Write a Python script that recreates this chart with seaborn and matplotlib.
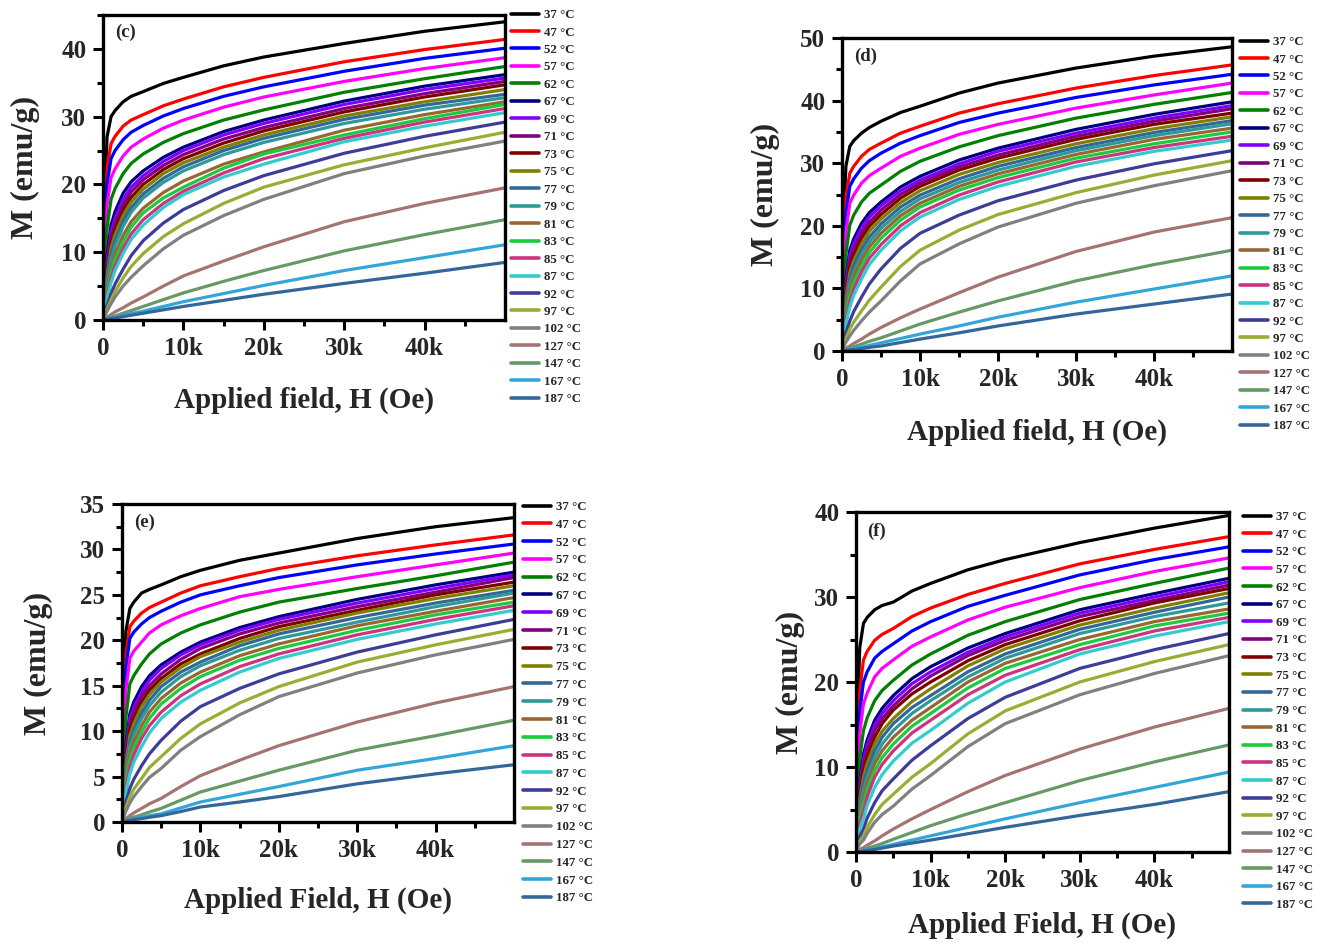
import numpy as np
import pandas as pd
import matplotlib
matplotlib.use("Agg")
import matplotlib.pyplot as plt
import seaborn as sns

# ---------------------------------------------------------------------------
# Data: magnetisation M (emu/g) versus applied field H (Oe) for each temperature
# ---------------------------------------------------------------------------
TEMPS = [37, 47, 52, 57, 62, 67, 69, 71, 73, 75, 77, 79, 81, 83, 85, 87,
         92, 97, 102, 127, 147, 167, 187]
LABELS = [f"{t} °C" for t in TEMPS]

COLORS = ["#000000", "#FF0000", "#0000FF", "#FF00FF", "#008000", "#000080",
          "#8000FF", "#800080", "#800000", "#808000", "#336699", "#2E9999",
          "#996633", "#1ACC3C", "#CC3380", "#33CCCC", "#3D3D99", "#99AD33",
          "#808080", "#A67373", "#669966", "#33A6D9", "#336699"]

H_FIELD = [0, 200, 500, 1000, 1500, 2500, 3500, 5000, 7500, 10000, 15000,
           20000, 30000, 40000, 50000]

M_PANEL_C = [
    [0, 16.0, 27.0, 30.0, 30.9, 32.2, 33.0, 33.7, 34.9, 35.8, 37.5, 38.8, 40.8, 42.6, 44.0],
    [0, 13.0, 22.5, 26.0, 27.1, 28.6, 29.5, 30.3, 31.6, 32.6, 34.4, 35.8, 38.1, 39.9, 41.4],
    [0, 11.0, 20.0, 23.8, 25.0, 26.6, 27.7, 28.7, 30.1, 31.2, 33.0, 34.4, 36.7, 38.6, 40.1],
    [0, 9.0, 17.0, 21.0, 22.3, 24.2, 25.5, 26.7, 28.3, 29.5, 31.4, 32.9, 35.2, 37.1, 38.7],
    [0, 6.5, 13.5, 17.8, 19.4, 21.6, 23.1, 24.5, 26.2, 27.5, 29.5, 31.0, 33.6, 35.6, 37.4],
    [0, 4.5, 9.5, 14.0, 16.0, 18.7, 20.4, 22.0, 24.0, 25.5, 27.8, 29.5, 32.3, 34.5, 36.2],
    [0, 4.0, 8.6, 13.0, 15.0, 17.8, 19.6, 21.3, 23.4, 25.0, 27.3, 29.0, 31.8, 34.0, 35.7],
    [0, 3.7, 8.0, 12.2, 14.2, 17.0, 18.9, 20.7, 22.8, 24.4, 26.7, 28.4, 31.2, 33.4, 35.2],
    [0, 3.3, 7.2, 11.4, 13.4, 16.2, 18.1, 20.0, 22.2, 23.8, 26.1, 27.9, 30.7, 32.9, 34.7],
    [0, 3.0, 6.6, 10.6, 12.6, 15.4, 17.4, 19.3, 21.6, 23.2, 25.5, 27.3, 30.1, 32.2, 34.0],
    [0, 2.6, 5.9, 9.6, 11.7, 14.6, 16.6, 18.6, 20.9, 22.6, 25.0, 26.8, 29.6, 31.7, 33.3],
    [0, 2.3, 5.3, 8.8, 10.9, 13.8, 15.9, 18.0, 20.3, 22.0, 24.4, 26.2, 29.0, 31.1, 32.8],
    [0, 1.9, 4.5, 7.6, 9.7, 12.5, 14.5, 16.5, 18.8, 20.5, 23.0, 24.8, 28.0, 30.3, 32.2],
    [0, 1.7, 4.0, 6.9, 8.9, 11.6, 13.7, 15.8, 18.0, 19.6, 22.4, 24.5, 27.3, 29.7, 31.8],
    [0, 1.5, 3.5, 6.2, 8.0, 10.6, 12.7, 14.8, 17.2, 19.0, 21.7, 23.8, 26.8, 29.2, 31.2],
    [0, 1.3, 3.1, 5.5, 7.3, 9.8, 11.9, 14.0, 16.6, 18.5, 21.1, 23.0, 26.3, 28.6, 30.6],
    [0, 0.9, 2.1, 3.9, 5.3, 7.5, 9.5, 11.7, 14.3, 16.3, 19.1, 21.3, 24.6, 27.1, 29.2],
    [0, 0.7, 1.6, 3.0, 4.2, 6.2, 7.9, 9.8, 12.3, 14.2, 17.2, 19.6, 22.9, 25.4, 27.7],
    [0, 0.55, 1.3, 2.4, 3.4, 5.0, 6.3, 8.0, 10.5, 12.5, 15.4, 17.8, 21.6, 24.2, 26.4],
    [0, 0.18, 0.4, 0.8, 1.2, 1.8, 2.5, 3.4, 5.0, 6.5, 8.7, 10.8, 14.5, 17.2, 19.5],
    [0, 0.1, 0.25, 0.45, 0.6, 1.0, 1.4, 2.0, 3.0, 4.0, 5.7, 7.3, 10.2, 12.6, 14.8],
    [0, 0.06, 0.15, 0.3, 0.4, 0.7, 0.95, 1.3, 2.0, 2.7, 3.9, 5.1, 7.3, 9.2, 11.1],
    [0, 0.05, 0.12, 0.22, 0.3, 0.5, 0.7, 1.0, 1.5, 2.0, 2.9, 3.8, 5.4, 6.9, 8.5],
]

M_PANEL_D = [
    [0, 20.0, 29.5, 32.7, 33.6, 34.8, 35.7, 36.7, 38.1, 39.1, 41.2, 42.8, 45.2, 47.1, 48.6],
    [0, 15.0, 24.5, 28.4, 29.5, 31.1, 32.2, 33.2, 34.8, 35.9, 38.0, 39.5, 42.0, 44.0, 45.7],
    [0, 13.0, 22.0, 26.3, 27.5, 29.2, 30.4, 31.6, 33.2, 34.4, 36.5, 38.0, 40.5, 42.5, 44.2],
    [0, 10.5, 19.0, 23.6, 24.9, 26.8, 28.0, 29.2, 31.1, 32.4, 34.6, 36.2, 38.8, 40.9, 42.8],
    [0, 8.0, 15.5, 20.1, 21.7, 23.8, 25.2, 26.5, 28.7, 30.3, 32.6, 34.4, 37.2, 39.4, 41.3],
    [0, 5.5, 11.5, 16.1, 17.9, 20.4, 22.1, 23.8, 26.2, 27.9, 30.5, 32.4, 35.4, 37.8, 39.8],
    [0, 5.0, 10.8, 15.3, 17.1, 19.6, 21.4, 23.2, 25.6, 27.3, 29.9, 31.9, 34.8, 37.2, 39.2],
    [0, 4.6, 10.0, 14.4, 16.2, 18.8, 20.6, 22.5, 25.0, 26.8, 29.4, 31.3, 34.3, 36.7, 38.7],
    [0, 4.2, 9.2, 13.4, 15.3, 18.0, 19.9, 21.8, 24.4, 26.3, 28.9, 30.8, 33.8, 36.2, 38.0],
    [0, 3.8, 8.5, 12.5, 14.4, 17.1, 19.1, 21.1, 23.7, 25.6, 28.2, 30.1, 33.1, 35.5, 37.4],
    [0, 3.4, 7.7, 11.5, 13.5, 16.2, 18.2, 20.3, 23.0, 24.9, 27.5, 29.5, 32.5, 34.9, 36.8],
    [0, 3.1, 7.0, 10.7, 12.6, 15.3, 17.4, 19.6, 22.3, 24.3, 26.9, 28.9, 32.0, 34.4, 36.3],
    [0, 2.7, 6.3, 9.8, 11.8, 14.5, 16.6, 18.8, 21.6, 23.6, 26.3, 28.3, 31.4, 33.8, 35.6],
    [0, 2.4, 5.6, 8.8, 10.8, 13.5, 15.7, 18.0, 20.9, 23.0, 25.7, 27.7, 30.8, 33.1, 35.0],
    [0, 2.1, 5.0, 7.9, 9.9, 12.6, 14.8, 17.0, 20.0, 22.1, 24.9, 27.0, 30.2, 32.5, 34.3],
    [0, 1.9, 4.4, 7.0, 8.9, 11.5, 13.8, 16.1, 19.2, 21.4, 24.2, 26.3, 29.5, 31.9, 33.7],
    [0, 1.2, 2.9, 4.8, 6.3, 8.6, 10.7, 13.1, 16.4, 18.8, 21.7, 24.0, 27.3, 29.9, 32.0],
    [0, 0.85, 2.0, 3.5, 4.6, 6.4, 8.1, 10.2, 13.5, 16.1, 19.3, 21.8, 25.3, 28.1, 30.4],
    [0, 0.6, 1.4, 2.4, 3.3, 4.8, 6.2, 8.0, 11.2, 13.9, 17.1, 19.8, 23.6, 26.4, 28.8],
    [0, 0.2, 0.45, 0.8, 1.2, 1.9, 2.7, 3.75, 5.3, 6.7, 9.3, 11.8, 15.9, 19.0, 21.3],
    [0, 0.1, 0.25, 0.45, 0.67, 1.1, 1.55, 2.1, 3.2, 4.3, 6.2, 8.0, 11.2, 13.8, 16.1],
    [0, 0.06, 0.14, 0.25, 0.37, 0.6, 0.9, 1.3, 2.0, 2.7, 4.0, 5.4, 7.8, 9.9, 12.0],
    [0, 0.04, 0.1, 0.18, 0.25, 0.4, 0.58, 0.8, 1.35, 1.9, 2.9, 4.0, 5.9, 7.5, 9.1],
]

M_PANEL_E = [
    [0, 15.0, 21.0, 23.5, 24.2, 25.2, 25.6, 26.1, 27.0, 27.7, 28.8, 29.6, 31.2, 32.5, 33.5],
    [0, 12.0, 18.5, 21.5, 22.1, 23.0, 23.6, 24.2, 25.2, 26.0, 27.0, 27.9, 29.3, 30.5, 31.6],
    [0, 10.5, 17.0, 20.2, 20.9, 21.8, 22.5, 23.2, 24.2, 25.0, 26.0, 26.9, 28.3, 29.5, 30.6],
    [0, 8.5, 14.5, 18.0, 18.8, 19.8, 20.8, 21.7, 22.7, 23.5, 24.8, 25.6, 27.0, 28.3, 29.6],
    [0, 6.5, 11.5, 15.2, 16.1, 17.4, 18.5, 19.6, 20.8, 21.7, 23.1, 24.2, 25.7, 27.1, 28.6],
    [0, 4.3, 8.5, 11.9, 13.2, 14.9, 16.1, 17.3, 18.7, 19.8, 21.4, 22.6, 24.5, 26.1, 27.5],
    [0, 4.0, 8.0, 11.4, 12.6, 14.3, 15.6, 16.9, 18.4, 19.5, 21.1, 22.3, 24.1, 25.7, 27.2],
    [0, 3.7, 7.5, 10.8, 12.1, 13.8, 15.0, 16.3, 17.9, 19.1, 20.7, 21.9, 23.7, 25.3, 26.9],
    [0, 3.4, 7.0, 10.1, 11.4, 13.2, 14.5, 15.8, 17.4, 18.5, 20.2, 21.5, 23.3, 25.0, 26.4],
    [0, 3.1, 6.5, 9.5, 10.8, 12.7, 14.0, 15.4, 17.0, 18.2, 19.8, 21.1, 23.0, 24.6, 26.0],
    [0, 2.8, 5.9, 8.8, 10.1, 12.0, 13.4, 14.9, 16.5, 17.6, 19.4, 20.7, 22.5, 24.1, 25.5],
    [0, 2.5, 5.4, 8.3, 9.6, 11.4, 12.8, 14.3, 16.0, 17.2, 18.9, 20.2, 22.0, 23.7, 25.2],
    [0, 2.2, 4.8, 7.5, 8.8, 10.6, 12.1, 13.6, 15.3, 16.5, 18.3, 19.6, 21.6, 23.2, 24.7],
    [0, 1.9, 4.3, 6.8, 8.1, 9.9, 11.4, 13.0, 14.7, 16.0, 17.8, 19.1, 21.1, 22.8, 24.2],
    [0, 1.7, 3.8, 6.1, 7.4, 9.2, 10.6, 12.1, 13.9, 15.2, 17.1, 18.5, 20.6, 22.3, 23.8],
    [0, 1.5, 3.3, 5.3, 6.6, 8.3, 9.8, 11.4, 13.2, 14.5, 16.5, 18.0, 20.1, 21.8, 23.3],
    [0, 1.0, 2.2, 3.7, 4.7, 6.2, 7.5, 9.0, 11.1, 12.7, 14.7, 16.3, 18.7, 20.6, 22.3],
    [0, 0.7, 1.6, 2.8, 3.6, 4.8, 6.0, 7.2, 9.2, 10.8, 13.1, 14.9, 17.6, 19.5, 21.2],
    [0, 0.5, 1.2, 2.1, 2.8, 3.9, 4.9, 5.9, 7.9, 9.4, 11.8, 13.8, 16.4, 18.4, 20.1],
    [0, 0.17, 0.4, 0.7, 1.0, 1.5, 2.0, 2.6, 3.9, 5.1, 6.8, 8.4, 11.0, 13.1, 14.9],
    [0, 0.08, 0.2, 0.37, 0.53, 0.8, 1.1, 1.5, 2.4, 3.3, 4.5, 5.7, 7.9, 9.5, 11.2],
    [0, 0.05, 0.13, 0.25, 0.35, 0.5, 0.7, 0.9, 1.55, 2.2, 3.05, 3.9, 5.7, 7.0, 8.4],
    [0, 0.04, 0.1, 0.18, 0.26, 0.37, 0.52, 0.7, 1.15, 1.65, 2.2, 2.8, 4.2, 5.3, 6.3],
]

M_PANEL_F = [
    [0, 16.0, 24.0, 26.9, 27.6, 28.5, 29.0, 29.4, 30.7, 31.6, 33.2, 34.4, 36.4, 38.1, 39.6],
    [0, 11.0, 19.0, 22.6, 23.6, 24.9, 25.6, 26.3, 27.7, 28.7, 30.3, 31.6, 33.9, 35.6, 37.1],
    [0, 9.0, 16.5, 20.0, 21.2, 22.8, 23.6, 24.5, 26.0, 27.1, 28.9, 30.2, 32.6, 34.4, 35.9],
    [0, 7.5, 14.0, 17.4, 18.7, 20.6, 21.6, 22.6, 24.2, 25.3, 27.3, 28.8, 31.1, 33.0, 34.6],
    [0, 5.5, 11.0, 14.3, 15.8, 17.8, 19.0, 20.2, 22.0, 23.3, 25.5, 27.1, 29.7, 31.6, 33.4],
    [0, 4.0, 8.3, 11.5, 13.2, 15.5, 16.9, 18.4, 20.4, 21.8, 24.0, 25.7, 28.5, 30.4, 32.2],
    [0, 3.7, 7.8, 10.9, 12.6, 14.9, 16.3, 17.8, 19.8, 21.2, 23.5, 25.3, 28.1, 30.0, 31.8],
    [0, 3.4, 7.3, 10.4, 12.0, 14.3, 15.7, 17.2, 19.2, 20.7, 23.1, 24.9, 27.7, 29.6, 31.4],
    [0, 3.1, 6.8, 9.6, 11.2, 13.5, 15.1, 16.7, 18.6, 20.0, 22.5, 24.4, 27.2, 29.3, 31.0],
    [0, 2.8, 6.2, 8.8, 10.4, 12.7, 14.2, 15.7, 17.7, 19.2, 21.9, 23.9, 26.7, 28.7, 30.5],
    [0, 2.5, 5.6, 8.0, 9.6, 11.9, 13.5, 15.1, 17.0, 18.4, 21.2, 23.3, 26.2, 28.2, 30.0],
    [0, 2.2, 5.0, 7.2, 8.8, 11.1, 12.7, 14.3, 16.3, 17.8, 20.6, 22.8, 25.7, 27.7, 29.3],
    [0, 1.9, 4.4, 6.4, 8.1, 10.4, 11.9, 13.5, 15.5, 17.0, 20.0, 22.2, 25.0, 27.1, 28.6],
    [0, 1.7, 3.9, 5.6, 7.3, 9.6, 11.1, 12.7, 14.8, 16.3, 19.3, 21.6, 24.4, 26.6, 28.1],
    [0, 1.4, 3.3, 4.8, 6.5, 8.8, 10.3, 11.9, 14.0, 15.5, 18.5, 20.8, 23.8, 26.0, 27.6],
    [0, 1.2, 2.7, 3.9, 5.5, 7.6, 9.1, 10.7, 12.8, 14.3, 17.5, 20.0, 23.3, 25.4, 27.1],
    [0, 0.8, 1.8, 2.7, 4.0, 5.8, 7.2, 8.6, 10.8, 12.5, 15.7, 18.2, 21.6, 23.8, 25.7],
    [0, 0.55, 1.3, 1.9, 2.9, 4.4, 5.6, 6.8, 8.8, 10.4, 13.9, 16.6, 20.0, 22.4, 24.4],
    [0, 0.4, 0.95, 1.4, 2.2, 3.5, 4.4, 5.4, 7.4, 9.0, 12.4, 15.1, 18.5, 21.0, 23.1],
    [0, 0.12, 0.3, 0.5, 0.8, 1.3, 1.9, 2.7, 3.9, 5.0, 7.1, 9.0, 12.1, 14.7, 16.9],
    [0, 0.06, 0.15, 0.28, 0.44, 0.7, 1.0, 1.5, 2.3, 3.1, 4.5, 5.8, 8.4, 10.6, 12.6],
    [0, 0.04, 0.09, 0.17, 0.26, 0.4, 0.6, 0.9, 1.4, 1.9, 2.9, 3.9, 5.8, 7.6, 9.4],
    [0, 0.03, 0.06, 0.12, 0.19, 0.3, 0.46, 0.7, 1.05, 1.4, 2.15, 2.9, 4.3, 5.6, 7.1],
]

X_TICKS = [0, 10000, 20000, 30000, 40000]
X_TICK_LABELS = ["0", "10k", "20k", "30k", "40k"]

# ---------------------------------------------------------------------------
# Styling
# ---------------------------------------------------------------------------
sns.set_style("white")
plt.rcParams["font.family"] = ["Liberation Serif", "DejaVu Serif"]
plt.rcParams["font.weight"] = "bold"
plt.rcParams["axes.labelweight"] = "bold"

W, H = 1323, 943
fig = plt.figure(figsize=(W / 100, H / 100), dpi=100)


def long_table(m_rows):
    frames = []
    for lab, row in zip(LABELS, m_rows):
        frames.append(pd.DataFrame({"H": H_FIELD, "M": row, "T": lab}))
    return pd.concat(frames, ignore_index=True)


panels = [
    # tag, table, axes box (l, r, t, b) px, ymax, major, minor step, xlabel,
    # legend anchor (x, y) px, legend row spacing, ylabel x px, xlabel y px
    ("(c)", M_PANEL_C, (103, 505, 15, 320), 45, 10, 5,
     "Applied field, H (Oe)", (511, 9), 0.42, 25, 400),
    ("(d)", M_PANEL_D, (842, 1232, 38, 351), 50, 10, 5,
     "Applied field, H (Oe)", (1240, 36), 0.42, 765, 432),
    ("(e)", M_PANEL_E, (122, 514, 504, 822), 35, 5, 2.5,
     "Applied Field, H (Oe)", (523, 501), 0.445, 38, 900),
    ("(f)", M_PANEL_F, (856, 1229, 512, 852), 40, 10, 5,
     "Applied Field, H (Oe)", (1243, 511), 0.433, 790, 925),
]

for (tag, rows, (l, r, t, b), ymax, ymaj, ymin, xlab, (lx, ly), lsp,
     ylx, xly) in panels:
    ax = fig.add_axes([l / W, 1 - b / H, (r - l) / W, (b - t) / H])
    df = long_table(rows)
    sns.lineplot(data=df, x="H", y="M", hue="T", hue_order=LABELS,
                 palette=COLORS, linewidth=2.3, estimator=None, sort=False,
                 ax=ax, legend=True)

    ax.set_xlim(0, 50000)
    ax.set_ylim(0, ymax)
    ax.set_xticks(X_TICKS)
    ax.set_xticklabels(X_TICK_LABELS)
    ax.set_xticks(np.arange(5000, 50000, 10000), minor=True)
    ax.set_yticks(np.arange(0, ymax + 0.01, ymaj))
    ax.set_yticks(np.arange(ymin, ymax + 0.01, ymaj), minor=True)
    ax.tick_params(axis="both", which="major", direction="out", length=7,
                   width=2.2, labelsize=18, pad=5, color="black",
                   bottom=True, left=True)
    ax.tick_params(axis="both", which="minor", direction="out", length=4,
                   width=2.2, color="black", bottom=True, left=True)
    for lbl in ax.get_xticklabels() + ax.get_yticklabels():
        lbl.set_fontweight("bold")
    for sp in ax.spines.values():
        sp.set_linewidth(2.4)
        sp.set_color("black")

    ax.set_ylabel("M (emu/g)", fontsize=23, fontweight="bold", va="center")
    ax.yaxis.set_label_coords(((ylx - l) / (r - l)), 0.5)
    ax.set_xlabel(xlab, fontsize=21, fontweight="bold", va="center")
    ax.xaxis.set_label_coords(0.5, (b - xly) / (b - t))

    ax.text(0.03, 0.97, tag, transform=ax.transAxes, ha="left", va="top",
            fontsize=13.5, fontweight="bold")

    sns.move_legend(ax, "upper left", bbox_to_anchor=(lx / W, 1 - ly / H),
                    bbox_transform=fig.transFigure, frameon=False, title=None,
                    fontsize=9.3, handlelength=2.2, handletextpad=0.35,
                    labelspacing=lsp, borderaxespad=0, borderpad=0)
    leg = ax.get_legend()
    for ln in leg.get_lines():
        ln.set_linewidth(2.6)
    for txt in leg.get_texts():
        txt.set_fontweight("bold")

fig.savefig("out.png", dpi=100)
